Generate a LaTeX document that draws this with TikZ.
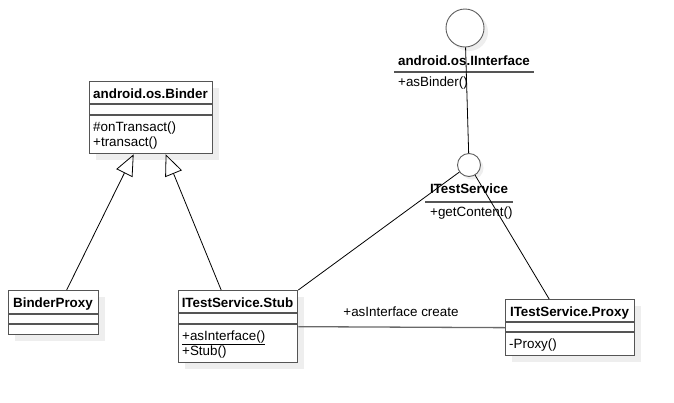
\documentclass[tikz,border=0pt]{standalone}
\usepackage{fontspec}
\setmainfont{Liberation Sans}
\usetikzlibrary{arrows.meta}
\definecolor{bordergray}{RGB}{85,85,85}
\definecolor{shadowgray}{RGB}{238,238,238}
\definecolor{circgray}{RGB}{95,95,95}
\definecolor{assocgray}{RGB}{105,105,105}
\tikzset{
  classbox/.style={draw=bordergray, line width=1.3pt, fill=white, rectangle, inner sep=0pt, anchor=north west},
  divider/.style={draw=bordergray, line width=1.3pt},
  shadowfill/.style={fill=shadowgray, draw=none},
  ifacecircle/.style={circle, draw=circgray, line width=0.9pt, fill=white, inner sep=0pt},
  titletext/.style={font=\fontsize{13.4}{15}\selectfont\bfseries, inner sep=0pt, anchor=base},
  membertext/.style={font=\fontsize{13.4}{15}\selectfont, inner sep=0pt, anchor=base west},
  conn/.style={draw=black, line width=0.8pt},
  gen/.style={conn, -{Triangle[open, length=21pt, width=18pt, line width=0.8pt]}},
  assoc/.style={draw=assocgray, line width=1.3pt},
}
\begin{document}
\begin{tikzpicture}[x=1pt,y=-1pt]
\useasboundingbox (0,0) rectangle (674,402);
\fill[white] (0,0) rectangle (674,402);

% shadows
\fill[shadowfill] (96,88) rectangle (219,160);
\fill[shadowfill] (15,297) rectangle (105,341);
\fill[shadowfill] (185,297) rectangle (304,369);
\fill[shadowfill] (512,306) rectangle (641,362);
\fill[shadowfill] (469,32) circle (19);
\fill[shadowfill] (472,168) circle (11.5);

% android.os.Binder
\node[classbox, minimum width=123pt, minimum height=72pt] (binder) at (89,81) {};
\node[titletext] (binderT) at (150.5,98) {android.os.Binder};
\draw[divider] (binder.west |- 0,104) -- (binder.east |- 0,104);
\draw[divider] (binder.west |- 0,115) -- (binder.east |- 0,115);
\node[membertext] (binderM1) at (93,131) {\#onTransact()};
\node[membertext] (binderM2) at (93,146) {+transact()};

% BinderProxy
\node[classbox, minimum width=90pt, minimum height=44pt] (bproxy) at (8,290) {};
\node[titletext] (bproxyT) at (53,307) {BinderProxy};
\draw[divider] (bproxy.west |- 0,314) -- (bproxy.east |- 0,314);
\draw[divider] (bproxy.west |- 0,324) -- (bproxy.east |- 0,324);

% ITestService.Stub
\node[classbox, minimum width=119pt, minimum height=72pt] (stub) at (178,290) {};
\node[titletext] (stubT) at (237.5,307) {ITestService.Stub};
\draw[divider] (stub.west |- 0,313) -- (stub.east |- 0,313);
\draw[divider] (stub.west |- 0,324) -- (stub.east |- 0,324);
\node[membertext] (stubM1) at (182,340) {\underline{+asInterface()}};
\node[membertext] (stubM2) at (182,355) {+Stub()};

% ITestService.Proxy
\node[classbox, minimum width=129pt, minimum height=56pt] (proxy) at (505,299) {};
\node[titletext] (proxyT) at (569.5,316) {ITestService.Proxy};
\draw[divider] (proxy.west |- 0,322) -- (proxy.east |- 0,322);
\draw[divider] (proxy.west |- 0,332) -- (proxy.east |- 0,332);
\node[membertext] (proxyM1) at (509,348) {-Proxy()};

% android.os.IInterface
\node[ifacecircle, minimum size=38pt] (iiface) at (465,28) {};
\node[titletext] (iifaceT) at (464,65) {android.os.IInterface};
\coordinate (iifaceL1) at (394,72);
\coordinate (iifaceL2) at (534,72);
\draw[divider] (iifaceL1) -- (iifaceL2);
\node[membertext] (iifaceM1) at (398,86) {+asBinder()};

% ITestService
\node[ifacecircle, minimum size=23pt] (itest) at (469,165) {};
\node[titletext] (itestT) at (469,193) {ITestService};
\coordinate (itestL1) at (425,202);
\coordinate (itestL2) at (513,202);
\draw[divider] (itestL1) -- (itestL2);
\node[membertext] (itestM1) at (430,216) {+getContent()};

% connectors
\draw[conn] (iiface) -- (itest);
\draw[conn] (stub.north east) -- (itest);
\draw[conn] ([xshift=-21pt]proxy.north) -- (itest);
\draw[gen] ([xshift=13pt]bproxy.north) -- ([xshift=-17.5pt]binder.south);
\draw[gen] ([xshift=-17pt]stub.north) -- ([xshift=14.5pt]binder.south);
\draw[assoc] (stub.east) -- (proxy.west);
\node[membertext, anchor=base] (assocL) at (401,316) {+asInterface create};
\end{tikzpicture}
\end{document}
